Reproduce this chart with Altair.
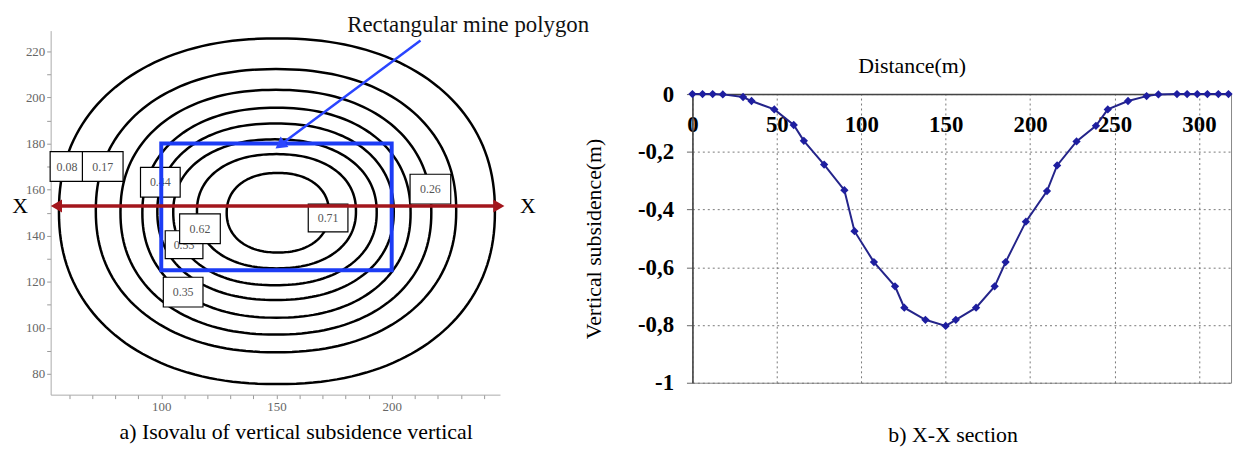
import altair as alt
import pandas as pd
import numpy as np

SERIF = "Liberation Serif"

# ---------------- Panel a) : iso-lines of vertical subsidence ----------------
# extents of each contour (data units), inner -> outer
contour_levels = [0.71, 0.62, 0.53, 0.44, 0.35, 0.26, 0.17, 0.08]
contour_left = [128.4, 115.5, 105.2, 98.3, 91.8, 82.3, 71.6, 55.6]
contour_right = [172.8, 184.5, 193.5, 200.9, 208.2, 217.2, 228.0, 244.8]
contour_top = [167.2, 175.4, 181.8, 188.7, 195.5, 203.3, 212.3, 225.6]
contour_bottom = [132.7, 125.8, 118.5, 112.1, 104.4, 97.1, 89.4, 75.6]

# boxed contour labels (the last one is drawn on top of the others)
label_text = ["0.08", "0.17", "0.44", "0.53", "0.35", "0.71", "0.26", "0.62"]
label_x = [59.1, 74.6, 99.6, 109.9, 109.5, 172.4, 216.8, 116.8]
label_y = [170.0, 170.0, 163.2, 136.1, 115.5, 147.7, 160.2, 143.0]
label_box_w = [34, 41, 40, 38, 40, 40, 41, 41]   # style (px)
label_box_h = [30, 30, 30, 28, 30, 28, 30, 30]   # style (px)

# rectangular mine polygon
mine_x = [100, 200]
mine_y = [125, 180]

# X-X section line
section_x = [54.5, 246.5]
section_y = [152.9]
section_letters = ["X", "X"]
section_letter_x = [38.8, 259.1]

# annotation arrow
arrow_from = [212.5, 224.7]
arrow_to = [152.2, 179.8]
annot_text = ["Rectangular mine polygon"]
annot_pos = [233.2, 231.6]

# ---------------- Panel b) : X-X section ----------------
distance = [0, 6, 12, 18, 30, 35, 48.5, 60, 66, 78, 90, 96, 107.5, 120, 125.5,
            138, 150, 156, 168, 179, 185.5, 197.5, 210, 216, 227.5, 239, 246,
            258, 269, 276, 287, 293, 299, 305, 311.5, 317.5]
subsidence = [0, 0, 0, -0.001, -0.01, -0.024, -0.053, -0.107, -0.162, -0.244,
              -0.333, -0.475, -0.582, -0.666, -0.74, -0.782, -0.803, -0.782,
              -0.74, -0.666, -0.582, -0.442, -0.336, -0.247, -0.164, -0.11,
              -0.053, -0.024, -0.007, -0.001, 0, 0, 0, 0, 0, 0]
x_ticks_b = [0, 50, 100, 150, 200, 250, 300]
y_ticks_b = [0, -0.2, -0.4, -0.6, -0.8, -1]
caption_b = ["b) X-X section"]
caption_b_pos = [154.4, -1.182]

# ---------------- build tables ----------------
rows = []
t = np.linspace(0, 2 * np.pi, 181)
p = 2 / 2.2
for k, lev in enumerate(contour_levels):
    cx = (contour_left[k] + contour_right[k]) / 2
    cy = (contour_top[k] + contour_bottom[k]) / 2
    a = (contour_right[k] - contour_left[k]) / 2
    b = (contour_top[k] - contour_bottom[k]) / 2
    c, s = np.cos(t), np.sin(t)
    xs = cx + a * np.sign(c) * np.abs(c) ** p
    ys = cy + b * np.sign(s) * np.abs(s) ** p
    for i, (x, y) in enumerate(zip(xs, ys)):
        rows.append({"level": lev, "i": i, "x": float(x), "y": float(y)})
contours_df = pd.DataFrame(rows)

labels_df = pd.DataFrame({
    "text": label_text, "x": label_x, "y": label_y,
    "shape": [f"M-1,{-h / w:.3f}L1,{-h / w:.3f}L1,{h / w:.3f}L-1,{h / w:.3f}Z"
              for w, h in zip(label_box_w, label_box_h)],
    "size": [w * w for w in label_box_w],
})
labels_lo = labels_df.iloc[:-1]
labels_hi = labels_df.iloc[-1:]

mine_df = pd.DataFrame({"x": [mine_x[0]], "x2": [mine_x[1]], "y": [mine_y[0]], "y2": [mine_y[1]]})
section_df = pd.DataFrame({"x": [section_x[0]], "x2": [section_x[1]], "y": section_y})
heads_df = pd.DataFrame({"x": section_x, "y": section_y * 2, "shape": ["triangle-left", "triangle-right"]})
letters_df = pd.DataFrame({"x": section_letter_x, "y": section_y * 2, "text": section_letters})
arrow_df = pd.DataFrame({"x": [arrow_from[0]], "y": [arrow_from[1]], "x2": [arrow_to[0]], "y2": [arrow_to[1]]})
arrowhead_df = pd.DataFrame({"x": [arrow_to[0]], "y": [arrow_to[1]]})
annot_df = pd.DataFrame({"x": [annot_pos[0]], "y": [annot_pos[1]], "text": annot_text})

xs_a = alt.Scale(domain=[52, 247], nice=False, zero=False)
ys_a = alt.Scale(domain=[71, 229], nice=False, zero=False)

x_axis_a = alt.Axis(values=list(range(60, 250, 10)),
                    labelExpr="datum.value % 50 == 0 ? datum.label : ''",
                    labelFont=SERIF, labelFontSize=13, labelColor="#666",
                    labelFlush=False, labelOverlap=False,
                    tickColor="#999", tickSize=4, domainColor="#aaa", grid=False,
                    title="a) Isovalu of vertical subsidence vertical",
                    titleFont=SERIF, titleFontSize=22, titleFontWeight="normal",
                    titleColor="#000", titleX=247, titlePadding=8)
y_axis_a = alt.Axis(values=list(range(80, 230, 10)),
                    labelExpr="datum.value % 20 == 0 ? datum.label : ''",
                    labelFont=SERIF, labelFontSize=13, labelColor="#666",
                    labelOverlap=False, tickColor="#999", tickSize=4,
                    domainColor="#aaa", grid=False, title=None)


def X(field="x"):
    return alt.X(f"{field}:Q", scale=xs_a, axis=x_axis_a)


def Y(field="y"):
    return alt.Y(f"{field}:Q", scale=ys_a, axis=y_axis_a)


contour_layer = alt.Chart(contours_df).mark_line(color="#000", strokeWidth=2.5).encode(
    x=X(), y=Y(), detail="level:N", order="i:Q")


def box_layers(df):
    boxes = alt.Chart(df).mark_point(filled=True, fill="#fff", stroke="#000",
                                      strokeWidth=1.2, opacity=1).encode(
        x=X(), y=Y(), shape=alt.Shape("shape:N", scale=None),
        size=alt.Size("size:Q", scale=None))
    texts = alt.Chart(df).mark_text(font=SERIF, fontSize=12, color="#555").encode(
        x=X(), y=Y(), text="text:N")
    return [boxes, texts]


mine_layer = alt.Chart(mine_df).mark_rect(fillOpacity=0, stroke="#1c3cf5", strokeWidth=4).encode(
    x=X(), x2="x2:Q", y=Y(), y2="y2:Q")
section_layer = alt.Chart(section_df).mark_rule(color="#a3161c", strokeWidth=3.5).encode(
    x=X(), x2="x2:Q", y=Y())
heads_layer = alt.Chart(heads_df).mark_point(filled=True, color="#a3161c", size=170, opacity=1).encode(
    x=X(), y=Y(), shape=alt.Shape("shape:N", scale=None))
letters_layer = alt.Chart(letters_df).mark_text(font=SERIF, fontSize=22, color="#000").encode(
    x=X(), y=Y(), text="text:N")
arrow_layer = alt.Chart(arrow_df).mark_rule(color="#2a45ff", strokeWidth=2.5).encode(
    x=X(), y=Y(), x2="x2:Q", y2="y2:Q")
arrowhead_layer = alt.Chart(arrowhead_df).mark_point(shape="triangle", angle=233, filled=True,
                                                     color="#2a45ff", size=170, opacity=1).encode(
    x=X(), y=Y())
annot_layer = alt.Chart(annot_df).mark_text(font=SERIF, fontSize=23, color="#111").encode(
    x=X(), y=Y(), text="text:N")

left = alt.layer(
    contour_layer, *box_layers(labels_lo), *box_layers(labels_hi),
    mine_layer, section_layer, heads_layer, letters_layer,
    arrow_layer, arrowhead_layer, annot_layer,
).properties(width=453, height=367, view=alt.ViewBackground(stroke="transparent"))

# ---------------- right panel ----------------
section_b_df = pd.DataFrame({"d": distance, "s": subsidence})
caption_df = pd.DataFrame({"d": [caption_b_pos[0]], "s": [caption_b_pos[1]], "text": caption_b})

xs_b = alt.Scale(domain=[0, 319], nice=False, zero=False)
ys_b = alt.Scale(domain=[-1, 0], nice=False, zero=False)

x_axis_b = alt.Axis(orient="top", values=x_ticks_b, labelFont=SERIF, labelFontSize=23,
                    labelFontWeight="bold", labelColor="#000", labelPadding=-31,
                    labelBaseline="middle", labelFlush=False, labelOverlap=False,
                    ticks=False, domainColor="#444", domainWidth=1.5,
                    grid=True, gridDash=[2, 3], gridColor="#777",
                    title="Distance(m)", titleFont=SERIF, titleFontSize=22,
                    titleFontWeight="normal", titleColor="#000", titlePadding=17,
                    titleX=221)
y_axis_b = alt.Axis(values=y_ticks_b,
                    labelExpr="replace(replace(format(datum.value, '.1~f'), '.', ','), '\u2212', '-')",
                    labelFont=SERIF, labelFontSize=23, labelFontWeight="bold", labelColor="#000",
                    labelPadding=13, tickSize=6, tickColor="#666", domainColor="#444",
                    domainWidth=1.5, grid=True, gridDash=[2, 3], gridColor="#777",
                    title="Vertical subsidence(m)", titleFont=SERIF, titleFontSize=22,
                    titleFontWeight="normal", titleColor="#000", titlePadding=32)

XB = alt.X("d:Q", scale=xs_b, axis=x_axis_b)
YB = alt.Y("s:Q", scale=ys_b, axis=y_axis_b)

line_b = alt.Chart(section_b_df).mark_line(color="#24248a", strokeWidth=2).encode(x=XB, y=YB)
points_b = alt.Chart(section_b_df).mark_point(shape="diamond", filled=True, color="#1e1ea0",
                                              size=70, opacity=1).encode(x=XB, y=YB)
caption_layer = alt.Chart(caption_df).mark_text(font=SERIF, fontSize=22, color="#000").encode(
    x=XB, y=YB, text="text:N")

right = alt.layer(line_b, points_b, caption_layer).properties(
    width=543, height=291,
    view=alt.ViewBackground(stroke="#888", strokeWidth=1),
)

spacer = alt.Chart(pd.DataFrame({"v": [0]})).mark_point(opacity=0).encode(
    x=alt.value(0), y=alt.value(0)
).properties(width=543, height=22, view=alt.ViewBackground(stroke="transparent"))

right_col = alt.vconcat(spacer, right, spacing=0)

chart = alt.hconcat(left, right_col, spacing=-8).properties(
    padding={"left": 3, "top": 3, "right": 0, "bottom": 0}
).configure(font=SERIF)

chart.save("out.html", embed_options={"renderer": "svg", "actions": False})
